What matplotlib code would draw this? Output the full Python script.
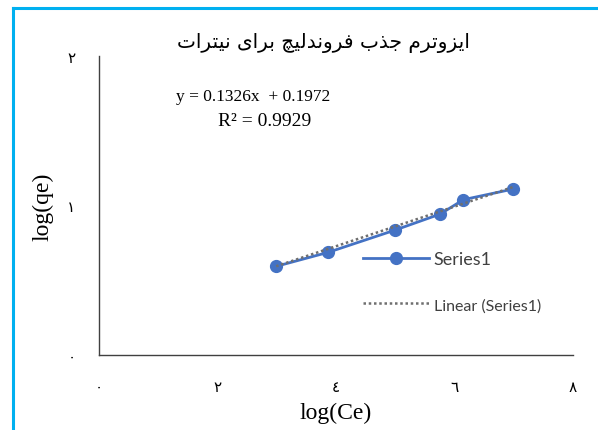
import matplotlib
matplotlib.use('Agg')
import matplotlib.pyplot as plt
from matplotlib.lines import Line2D

# Freundlich isotherm data (log Ce vs log qe)
log_ce = [2.99, 3.87, 5.00, 5.76, 6.15, 6.99]
log_qe = [0.593, 0.687, 0.836, 0.943, 1.039, 1.110]

# Linear trendline coefficients
slope = 0.1326
intercept = 0.1972
r_squared = 0.9929

x_ticks = [0, 2, 4, 6, 8]
x_tick_labels = ['٠', '٢', '٤', '٦', '٨']
y_ticks = [0, 1, 2]
y_tick_labels = ['٠', '١', '٢']

title_text = 'ایزوترم جذب فروندلیچ برای نیترات'

SERIES_COLOR = '#4472C4'
TREND_COLOR = '#6f6f6f'
BORDER_COLOR = '#00B0F0'

# Presentation forms: (isolated, final, initial, medial); None = no left join
FORMS = {
    'ا': ('\uFE8D', '\uFE8E', None, None),
    'ب': ('\uFE8F', '\uFE90', '\uFE91', '\uFE92'),
    'ت': ('\uFE95', '\uFE96', '\uFE97', '\uFE98'),
    'ج': ('\uFE9D', '\uFE9E', '\uFE9F', '\uFEA0'),
    'چ': ('\uFB7A', '\uFB7B', '\uFB7C', '\uFB7D'),
    'د': ('\uFEA9', '\uFEAA', None, None),
    'ذ': ('\uFEAB', '\uFEAC', None, None),
    'ر': ('\uFEAD', '\uFEAE', None, None),
    'ز': ('\uFEAF', '\uFEB0', None, None),
    'ف': ('\uFED1', '\uFED2', '\uFED3', '\uFED4'),
    'ل': ('\uFEDD', '\uFEDE', '\uFEDF', '\uFEE0'),
    'م': ('\uFEE1', '\uFEE2', '\uFEE3', '\uFEE4'),
    'ن': ('\uFEE5', '\uFEE6', '\uFEE7', '\uFEE8'),
    'و': ('\uFEED', '\uFEEE', None, None),
    'ی': ('\uFEEF', '\uFEF0', '\uFEF3', '\uFEF4'),
}


def shape_rtl(text):
    """Join Persian letters and reverse for left-to-right rendering."""
    out = []
    for i, ch in enumerate(text):
        if ch not in FORMS:
            out.append(ch)
            continue
        prev = text[i - 1] if i > 0 else ''
        nxt = text[i + 1] if i + 1 < len(text) else ''
        joins_prev = prev in FORMS and FORMS[prev][2] is not None
        joins_next = nxt in FORMS and FORMS[ch][2] is not None
        iso, fin, ini, med = FORMS[ch]
        if joins_prev and joins_next:
            out.append(med)
        elif joins_prev:
            out.append(fin)
        elif joins_next:
            out.append(ini)
        else:
            out.append(iso)
    return ''.join(reversed(out))


fig = plt.figure(figsize=(5.98, 4.31), dpi=100)
ax = fig.add_axes([99 / 598, 75 / 431, 474 / 598, 299 / 431])

ax.plot(log_ce, log_qe, color=SERIES_COLOR, lw=2.0, marker='o', ms=8.5,
        label='Series1', zorder=2)
trend_x = [min(log_ce), max(log_ce)]
trend_y = [slope * x + intercept for x in trend_x]
ax.plot(trend_x, trend_y, color=TREND_COLOR, lw=1.8, ls=(0, (1, 1.1)),
        label='Linear (Series1)', zorder=3)

ax.set_xlim(0, 8)
ax.set_ylim(0, 2)
ax.set_xticks(x_ticks)
ax.set_xticklabels(x_tick_labels, fontsize=11, family='DejaVu Sans')
ax.set_yticks(y_ticks)
ax.set_yticklabels(y_tick_labels, fontsize=11, family='DejaVu Sans')
ax.tick_params(length=0)
ax.tick_params(axis='x', pad=17)
ax.tick_params(axis='y', pad=17)

for side in ('top', 'right'):
    ax.spines[side].set_visible(False)
for side in ('left', 'bottom'):
    ax.spines[side].set_color('#404040')
    ax.spines[side].set_linewidth(1.0)

ax.set_xlabel('log(Ce)', fontsize=17, family='Liberation Serif', labelpad=6)
ax.set_ylabel('log(qe)', fontsize=17, family='Liberation Serif', labelpad=10)

fig.text(323 / 598, 1 - 43 / 431, shape_rtl(title_text), fontsize=14.5,
         family='DejaVu Sans', ha='center', va='center')

# Trendline equation and R² label
fig.text(330 / 598, 1 - 97 / 431, f'y = {slope}x  + {intercept}',
         fontsize=12.5, family='Liberation Serif', ha='right', va='center')
fig.text(218 / 598, 1 - 122 / 431, f'R² = {r_squared}',
         fontsize=14, family='Liberation Serif', ha='left', va='center')

leg = ax.legend(loc='upper left', bbox_to_anchor=(347 / 598, 1 - 236 / 431),
                bbox_transform=fig.transFigure, frameon=False,
                handlelength=3.65, labelspacing=1.65, handletextpad=0.25,
                prop={'family': 'Lato', 'size': 13})
leg.get_texts()[1].set_fontsize(11.5)
for t in leg.get_texts():
    t.set_color('#404040')

# Cyan frame on the left and top edges
fig.add_artist(Line2D([13 / 598, 13 / 598], [0, 1 - 9 / 431],
                      transform=fig.transFigure, color=BORDER_COLOR, lw=2.2))
fig.add_artist(Line2D([13 / 598, 1], [1 - 9 / 431, 1 - 9 / 431],
                      transform=fig.transFigure, color=BORDER_COLOR, lw=2.2))

fig.savefig('out.png', dpi=100)
